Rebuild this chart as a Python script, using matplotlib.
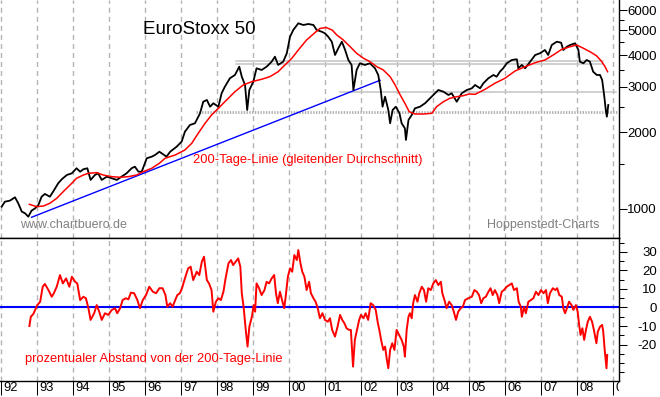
import matplotlib
matplotlib.use("Agg")
import matplotlib.pyplot as plt
import matplotlib.transforms as mtransforms
from matplotlib.ticker import FixedLocator, NullFormatter, NullLocator

plt.rcParams["font.family"] = ["Liberation Sans", "DejaVu Sans"]
plt.rcParams["axes.unicode_minus"] = False
plt.rcParams["lines.scale_dashes"] = False

# --- EuroStoxx 50 close (decimal year / index points) ---
close_t = [1992.01, 1992.10, 1992.24, 1992.38, 1992.47, 1992.57, 1992.66, 1992.75, 1992.84, 1992.94,
           1993.03, 1993.12, 1993.21, 1993.35, 1993.44, 1993.58, 1993.68, 1993.82, 1993.96,
           1994.09, 1994.19, 1994.28, 1994.39, 1994.48, 1994.60, 1994.69, 1994.79, 1994.93,
           1995.07, 1995.21, 1995.34, 1995.48, 1995.62, 1995.71, 1995.81, 1995.90,
           1996.04, 1996.18, 1996.27, 1996.39, 1996.59, 1996.69, 1996.87,
           1997.01, 1997.10, 1997.24, 1997.38, 1997.52, 1997.61, 1997.71, 1997.80, 1997.89,
           1998.03, 1998.12, 1998.21, 1998.35, 1998.49, 1998.61, 1998.68, 1998.77, 1998.83, 1998.89,
           1999.00, 1999.09, 1999.23, 1999.37, 1999.51, 1999.60, 1999.69, 1999.83, 1999.93,
           2000.02, 2000.11, 2000.25, 2000.39, 2000.53, 2000.67, 2000.76, 2000.90, 2000.99,
           2001.08, 2001.18, 2001.27, 2001.36, 2001.46, 2001.55, 2001.64, 2001.73, 2001.78, 2001.87, 2001.96,
           2002.10, 2002.24, 2002.38, 2002.47, 2002.54, 2002.59, 2002.66, 2002.75, 2002.80, 2002.87, 2002.96,
           2003.06, 2003.12, 2003.21, 2003.24, 2003.31, 2003.40, 2003.49, 2003.63, 2003.77, 2003.86,
           2004.00, 2004.14, 2004.28, 2004.42, 2004.51, 2004.65, 2004.79, 2004.93,
           2005.07, 2005.16, 2005.30, 2005.39, 2005.53, 2005.67, 2005.76, 2005.85, 2005.94,
           2006.04, 2006.18, 2006.32, 2006.36, 2006.46, 2006.55, 2006.69, 2006.83, 2006.96,
           2007.10, 2007.19, 2007.29, 2007.43, 2007.55, 2007.61, 2007.71, 2007.80, 2007.94,
           2008.03, 2008.07, 2008.17, 2008.26, 2008.35, 2008.44, 2008.54, 2008.63, 2008.69,
           2008.75, 2008.79, 2008.82, 2008.86]
close_v = [1021, 1068, 1078, 1111, 1053, 976, 962, 933, 985, 1006,
           1037, 1117, 1145, 1117, 1169, 1260, 1307, 1358, 1379,
           1443, 1399, 1430, 1443, 1299, 1358, 1379, 1299, 1338,
           1318, 1299, 1338, 1379, 1443, 1464, 1399, 1399,
           1579, 1602, 1626, 1675, 1602, 1675, 1752,
           1834, 2006, 2131, 2164, 2367, 2628, 2669, 2512, 2591,
           2512, 2835, 3008, 3245, 3343, 3602, 3292, 3055, 2439, 2920,
           3147, 3550, 3497, 3602, 3768, 3941, 3659, 3768, 4063,
           4718, 5012, 5324, 5244, 5291, 5244, 5012, 4935, 4865,
           4718, 4511, 4002, 4251, 4511, 4186, 3826, 3659, 2920, 3497, 3714,
           3659, 3714, 3550, 3343, 2920, 2512, 2749, 2439, 2164, 2439, 2512,
           2367, 2164, 2068, 1862, 2229, 2331, 2476, 2512, 2591, 2669,
           2792, 2920, 2876, 2792, 2835, 2628, 2835, 2920,
           2965, 3055, 2965, 3102, 3245, 3343, 3292, 3443, 3550,
           3714, 3826, 3851, 3550, 3659, 3550, 3768, 4002, 4063,
           4186, 4002, 4379, 4511, 4471, 4186, 4312, 4379, 4446,
           4186, 3768, 3714, 3826, 3768, 3443, 3343, 3343, 3195,
           2749, 2439, 2296, 2551]

# --- 200-day moving average ---
ma_t = [1992.78, 1992.98,
        1993.17, 1993.35, 1993.54, 1993.72, 1993.91,
        1994.09, 1994.28, 1994.42, 1994.65, 1994.83,
        1995.07, 1995.30, 1995.53, 1995.76, 1995.94,
        1996.18, 1996.39, 1996.55, 1996.83,
        1997.10, 1997.29, 1997.47, 1997.66, 1997.84,
        1998.03, 1998.21, 1998.49, 1998.72, 1998.96,
        1999.23, 1999.46, 1999.69, 1999.88,
        2000.07, 2000.25, 2000.48, 2000.69, 2000.85,
        2001.02, 2001.19, 2001.32, 2001.50, 2001.69, 2001.87,
        2002.06, 2002.24, 2002.43, 2002.61, 2002.80, 2002.94,
        2003.08, 2003.21, 2003.33, 2003.49, 2003.72, 2003.96,
        2004.09, 2004.28, 2004.46, 2004.65, 2004.83,
        2005.00, 2005.16, 2005.44, 2005.71, 2005.99,
        2006.27, 2006.55, 2006.83,
        2007.10, 2007.33, 2007.57, 2007.80, 2007.98,
        2008.17, 2008.35, 2008.54, 2008.68, 2008.77, 2008.84]
ma_v = [1043, 1021,
        1027, 1053, 1101, 1169, 1241,
        1318, 1358, 1379, 1387, 1358,
        1338, 1330, 1338, 1358, 1399,
        1443, 1509, 1579, 1626,
        1701, 1807, 1977, 2164, 2331,
        2476, 2628, 2876, 3055, 3147,
        3216, 3292, 3443, 3659,
        3886, 4186, 4581, 4865, 5081,
        5127, 5012, 4791, 4581, 4312, 4063,
        3886, 3768, 3602, 3497, 3292, 3055,
        2792, 2591, 2402, 2352, 2352, 2367,
        2512, 2628, 2710, 2749, 2774,
        2817, 2808, 2939, 3102, 3245,
        3465, 3602, 3734,
        3826, 4002, 4213, 4312, 4379,
        4251, 4123, 3967, 3768, 3602, 3443]

# --- percentage distance from the 200-day line ---
pct_t = [1992.78, 1992.82, 1992.89, 1992.94,
         1993.00, 1993.08, 1993.15, 1993.21, 1993.31, 1993.40, 1993.46, 1993.54, 1993.63, 1993.71, 1993.80, 1993.89, 1993.96,
         1994.05, 1994.11, 1994.19, 1994.28, 1994.35, 1994.42, 1994.48, 1994.58, 1994.65, 1994.72, 1994.79, 1994.88, 1994.97,
         1995.07, 1995.16, 1995.22, 1995.30, 1995.37, 1995.46, 1995.53, 1995.60, 1995.69, 1995.78, 1995.85, 1995.93,
         1996.02, 1996.11, 1996.21, 1996.30, 1996.39, 1996.48, 1996.56, 1996.61, 1996.69, 1996.76, 1996.83, 1996.89, 1996.96,
         1997.02, 1997.10, 1997.19, 1997.26, 1997.33, 1997.43, 1997.50, 1997.57, 1997.63, 1997.71, 1997.77, 1997.84, 1997.89, 1997.96,
         1998.03, 1998.10, 1998.17, 1998.23, 1998.31, 1998.38, 1998.44, 1998.51, 1998.58, 1998.64, 1998.68, 1998.73, 1998.79, 1998.84, 1998.89, 1998.96,
         1999.01, 1999.05, 1999.09, 1999.16, 1999.23, 1999.31, 1999.37, 1999.44, 1999.51, 1999.58, 1999.63, 1999.68, 1999.74, 1999.81, 1999.86, 1999.91, 1999.96,
         2000.02, 2000.08, 2000.14, 2000.21, 2000.25, 2000.31, 2000.36, 2000.42, 2000.48, 2000.55, 2000.60, 2000.67, 2000.73, 2000.79, 2000.85, 2000.92, 2000.99,
         2001.07, 2001.13, 2001.19, 2001.27, 2001.34, 2001.41, 2001.47, 2001.53, 2001.59, 2001.66, 2001.71, 2001.77, 2001.82, 2001.88, 2001.94, 2001.99,
         2002.06, 2002.12, 2002.19, 2002.26, 2002.33, 2002.40, 2002.46, 2002.50, 2002.55, 2002.61, 2002.66, 2002.71, 2002.75, 2002.80, 2002.86, 2002.92, 2002.98,
         2003.05, 2003.12, 2003.18, 2003.21, 2003.26, 2003.31, 2003.35, 2003.40, 2003.44, 2003.49, 2003.56, 2003.61, 2003.68, 2003.74, 2003.80, 2003.86, 2003.93,
         2004.00, 2004.07, 2004.14, 2004.21, 2004.25, 2004.31, 2004.37, 2004.44, 2004.51, 2004.57, 2004.63, 2004.69, 2004.76, 2004.82, 2004.88, 2004.97,
         2005.07, 2005.14, 2005.21, 2005.27, 2005.33, 2005.39, 2005.46, 2005.53, 2005.59, 2005.65, 2005.71, 2005.78, 2005.83, 2005.90, 2005.96,
         2006.04, 2006.11, 2006.18, 2006.24, 2006.32, 2006.37, 2006.43, 2006.46, 2006.52, 2006.57, 2006.64, 2006.71, 2006.78, 2006.85, 2006.92, 2006.99,
         2007.06, 2007.13, 2007.18, 2007.24, 2007.32, 2007.39, 2007.44, 2007.50, 2007.57, 2007.61, 2007.66, 2007.71, 2007.77, 2007.84, 2007.89, 2007.96,
         2008.01, 2008.05, 2008.09, 2008.14, 2008.19, 2008.24, 2008.29, 2008.35, 2008.41, 2008.46, 2008.53, 2008.57, 2008.63, 2008.69, 2008.72, 2008.76, 2008.81, 2008.83]
pct_v = [-10, -5, -3.5, -1.3,
         1.3, 3.1, 11.2, 12.7, 9.4, 5.8, 7.7, 11.2, 17.5, 13, 15.7, 11.2, 16.6,
         13.9, 13, 4, 5.8, 5, -0.4, -6.7, -3.1, 1.3, -2.3, -6.7, -3.1, -4,
         -1.3, -0.4, -3.1, -0.4, 4, 5, 4.4, 8, 7.7, 4, -0.4, 4,
         6.7, 11.2, 8.5, 7.7, 10.4, 10.4, 6.7, 0.4, 2.3, 0.4, 4, 6.7, 7.7,
         10.4, 15.7, 21.1, 22, 14.8, 19.3, 17.5, 24.7, 27.4, 14.8, 13, 9.4, -2.3, 3.1,
         5, 4, 8.5, 15.7, 23.8, 25.6, 22.9, 24.7, 26.5, 22, 7.7, 0.4, -12.1, -21.1, -10.4, -5,
         1.3, -2.3, 13, 10.4, 6.7, 9.4, 13.9, 13, 15.7, 17.5, 7.7, 2.3, 8.5, 3.1, -0.4, 7.7, 16.6,
         21.1, 19.3, 28.3, 25.6, 31, 23.8, 19.3, 16.6, 9.4, 13.9, 7.7, 5, 3.1, -0.4, -5.8, -3.1, -6.7,
         -7.7, -5.8, -12.1, -15.7, -10.4, -4, -6.7, -8.5, -11.2, -12.1, -12.1, -31.9, -17.5, -12.1, -6.7, -4,
         -5.8, -3.1, -6.7, 2.3, 1.3, -1.3, -8.5, -12.1, -17.5, -22.9, -21.1, -28.3, -32.8, -22.9, -19.3, -22.9, -12.1,
         -14.8, -17.5, -21.1, -26.5, -12.1, -5, -3.1, -5.8, 2.3, 6.7, 3.1, 7.7, 11.2, 9.4, 3.1, 10.4, 9.4,
         13, 14.8, 12.1, 13.9, 7.7, 4, -0.4, 3.1, 1.3, -2.3, -6.7, -2.3, -0.4, 0.4, 4, 5,
         5.8, 9.4, 8.5, 6.7, 2.3, 5, 5.8, 8.5, 10.4, 6.7, 9.4, 6.7, 2.3, 8.5, 9.4,
         11.2, 12.1, 13, 9.4, 10.4, 3.1, 0.4, -5, 0.4, -3.1, 3.1, 4, 5, 8.5, 6.7, 9.4,
         7.7, 9.4, 2.3, 7.7, 10.4, 9.4, 10.4, 6.7, 5.8, -0.4, -3.1, -0.4, 3.1, 1.3, -1.3, 1.3,
         -2.3, -9.4, -14.8, -11.2, -17.5, -12.1, -7.7, -5, -7.7, -12.1, -19.3, -13, -10.4, -9.4, -13, -22.9, -32.8, -25.6]

# trend line and horizontal marker levels
trend_t = [1992.84, 2002.52]
trend_v = [928, 3186]
levels = [3800, 3690, 2860]
level_from = [1998.51, 1998.51, 2001.41]
level_to = [2008.72, 2008.72, 2009.08]
support = 2402
support_from, support_to = 1997.40, 2009.12

years = list(range(1992, 2010))
year_labels = ["%02d" % (y % 100) for y in years]
price_ticks = [1000, 2000, 3000, 4000, 5000, 6000]
price_minor = [1500, 2500, 3500, 4500, 5500]
pct_ticks = [-20, -10, 0, 10, 20, 30]
pct_minor = [-35, -30, -25, -15, -5, 5, 15, 25, 35]

xmin, xmax = 1991.964, 2009.158

fig = plt.figure(figsize=(6.6, 3.97), dpi=100)
ax1 = fig.add_axes([0, 0.4005, 0.9379, 0.5995])
ax2 = fig.add_axes([0, 0.0411, 0.9379, 0.3594])

grid_kw = dict(color="#b4b4b4", lw=1.0, ls=(0, (3.6, 2.9)), zorder=0)
for ax in (ax1, ax2):
    ax.set_xlim(xmin, xmax)
    for yr in years:
        ax.axvline(yr, **grid_kw)
    ax.spines["left"].set_visible(False)
    for s in ("top", "right", "bottom"):
        ax.spines[s].set_linewidth(1.0)
        ax.spines[s].set_color("black")

# ---- upper panel ----
ax1.set_yscale("log")
ax1.set_ylim(770, 6567)
ax1.spines["top"].set_visible(False)

for lv, a, b in zip(levels, level_from, level_to):
    ax1.plot([a, b], [lv, lv], color="#c4c4c4", lw=1.1, zorder=1)
ax1.plot([support_from, support_to], [support, support], color="#b0b0b0",
         lw=2.0, ls=(0, (1, 1)), zorder=1)
ax1.plot(trend_t, trend_v, color="#0000ff", lw=1.0, zorder=2)
ax1.plot(close_t, close_v, color="black", lw=1.3, zorder=3)
ax1.plot(ma_t, ma_v, color="#ff0000", lw=1.1, zorder=4)

ax1.xaxis.set_major_locator(NullLocator())
ax1.xaxis.set_minor_locator(NullLocator())
ax1.yaxis.tick_right()
ax1.yaxis.set_major_locator(FixedLocator(price_ticks))
ax1.yaxis.set_minor_locator(FixedLocator(price_minor))
ax1.yaxis.set_major_formatter(plt.FixedFormatter([str(v) for v in price_ticks]))
ax1.yaxis.set_minor_formatter(NullFormatter())

# ---- lower panel ----
ax2.set_ylim(-39.5, 37.5)
ax2.axhline(0, color="#0000ff", lw=1.5, zorder=2)
ax2.plot(pct_t, pct_v, color="#ff0000", lw=1.4, zorder=3)
ax2.yaxis.tick_right()
ax2.yaxis.set_major_locator(FixedLocator(pct_ticks))
ax2.yaxis.set_minor_locator(FixedLocator(pct_minor))
ax2.yaxis.set_major_formatter(plt.FixedFormatter([str(v) for v in pct_ticks]))
ax2.xaxis.set_major_locator(FixedLocator(years))
ax2.xaxis.set_major_formatter(NullFormatter())
ax2.xaxis.set_minor_locator(NullLocator())
ax2.tick_params(axis="x", which="major", direction="out", length=10, width=0.75, color="black")

for ax in (ax1, ax2):
    ax.tick_params(axis="y", which="major", direction="out", length=6, width=0.75,
                   labelsize=9.5, pad=21.4, right=True, left=False)
    ax.tick_params(axis="y", which="minor", direction="out", length=3.5, width=0.75,
                   right=True, left=False)
    for tk in ax.yaxis.get_major_ticks():
        tk.label2.set_horizontalalignment("right")

# year labels just right of each tick, clipped at the plot edge like the original
ytrans = mtransforms.blended_transform_factory(ax2.transData, fig.transFigure)
ytrans = mtransforms.offset_copy(ytrans, fig=fig, x=2, y=0, units="dots")
clip = mtransforms.TransformedBbox(mtransforms.Bbox([[0, 0], [0.9379, 1]]), fig.transFigure)
for yr, lab in zip(years, year_labels):
    t = ax2.text(yr, 0.0227, lab, transform=ytrans, ha="left", va="center",
                 fontsize=9.3, color="black")
    t.set_clip_box(clip)
    t.set_clip_on(True)

# annotations
fig.text(143 / 660, 1 - 29 / 397, "EuroStoxx 50", fontsize=13.5, va="center", ha="left")
fig.text(193 / 660, 1 - 160 / 397, "200-Tage-Linie (gleitender Durchschnitt)",
         fontsize=9.3, color="#ff0000", va="center", ha="left")
fig.text(20 / 660, 1 - 225 / 397, "www.chartbuero.de", fontsize=9, color="#808080",
         va="center", ha="left")
fig.text(600 / 660, 1 - 225 / 397, "Hoppenstedt-Charts", fontsize=9, color="#808080",
         va="center", ha="right")
fig.text(25 / 660, 1 - 359 / 397, "prozentualer Abstand von der 200-Tage-Linie",
         fontsize=9.3, color="#ff0000", va="center", ha="left")

fig.savefig("out.png", dpi=100, facecolor="white")
plt.close(fig)
